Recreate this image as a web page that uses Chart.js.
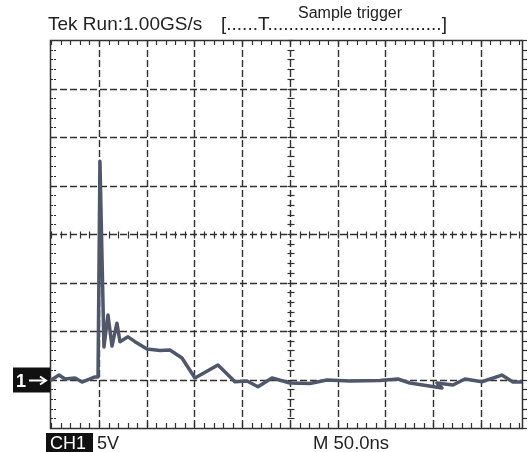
<!DOCTYPE html>
<html><head><meta charset="utf-8">
<script src="https://cdn.jsdelivr.net/npm/chart.js@4.4.0/dist/chart.umd.min.js"></script>
<style>html,body{margin:0;padding:0;background:#fff;}#wrap{width:532px;height:452px;position:relative;}</style>
</head><body><div id="wrap"><canvas id="c" width="532" height="452"></canvas></div>
<script>
// Trace samples (time in ns from left edge, volts above ground)
const timeNs = [0, 8.1, 14.4, 24.9, 32.2, 45.8, 49.0, 51.0, 55.2, 59.4, 63.6, 68.8, 72.0, 80.4, 87.7, 100.3, 113.9, 124.3, 136.9, 150.5, 174.6, 192.4, 205.0, 216.5, 231.2, 250.0, 270.9, 288.7, 312.8, 344.2, 363.0, 375.6, 409.2, 404.0, 420.7, 433.2, 451.0, 471.9, 483.5, 493.0];
const voltsV = [-0.05, 0.46, 0.05, 0.15, -0.26, 0.26, 0.26, 22.5, 3.35, 6.65, 3.45, 5.8, 3.9, 4.4, 3.9, 3.14, 2.99, 3.04, 2.22, 0.15, 1.49, -0.23, -0.15, -0.74, 0.15, -0.36, -0.41, -0.05, -0.15, -0.1, 0.05, -0.36, -0.88, -0.36, -0.57, 0.05, -0.23, 0.46, -0.26, -0.26];

// Graticule settings
const timePerDiv = 50;      // ns / div
const voltsPerDiv = 5;      // V / div
const xRange = [-1.3, 493];
const yRange = [-5, 35];
const centerTime = 250;
const centerVolt = 15;

// Labels
const headerLabel = "Tek Run:1.00GS/s";
const triggerLabel = "Sample trigger";
const channelLabel = "CH1";
const voltsLabel = "5V";
const timebaseLabel = "M 50.0ns";
const markerLabel = "1";

const points = timeNs.map((t, i) => ({x: t, y: voltsV[i]}));
const FONT = '"Liberation Sans", Arial, Helvetica, sans-serif';
const INK = '#222222';
const GRID = '#303030';

const graticule = {
  id: 'graticule',
  beforeDatasetsDraw(chart) {
    const {ctx, chartArea: a, scales: {x, y}} = chart;
    ctx.save();
    ctx.strokeStyle = GRID;
    // major dashed lines
    ctx.lineWidth = 1.4;
    ctx.setLineDash([7, 3]);
    for (let t = timePerDiv; t < xRange[1] - 5; t += timePerDiv) {
      const px = Math.round(x.getPixelForValue(t)) + 0.5;
      ctx.beginPath(); ctx.moveTo(px, a.top); ctx.lineTo(px, a.bottom); ctx.stroke();
    }
    for (let v = 0; v < yRange[1]; v += voltsPerDiv) {
      const py = Math.round(y.getPixelForValue(v)) + 0.5;
      ctx.beginPath(); ctx.moveTo(a.left, py); ctx.lineTo(a.right, py); ctx.stroke();
    }
    ctx.setLineDash([]);
    ctx.lineWidth = 1.2;
    const cx = Math.round(x.getPixelForValue(centerTime)) + 0.5;
    const cy = Math.round(y.getPixelForValue(centerVolt)) + 0.5;
    // center cross ticks
    for (let v = yRange[0]; v <= yRange[1]; v += voltsPerDiv / 5) {
      const py = Math.round(y.getPixelForValue(v)) + 0.5;
      ctx.beginPath(); ctx.moveTo(cx - 3, py); ctx.lineTo(cx + 4, py); ctx.stroke();
    }
    for (let t = 0; t <= xRange[1]; t += timePerDiv / 5) {
      const px = Math.round(x.getPixelForValue(t)) + 0.5;
      ctx.beginPath(); ctx.moveTo(px, cy - 3); ctx.lineTo(px, cy + 4); ctx.stroke();
      // top and bottom border ticks
      ctx.beginPath(); ctx.moveTo(px, a.top); ctx.lineTo(px, a.top + 5); ctx.stroke();
      ctx.beginPath(); ctx.moveTo(px, a.bottom); ctx.lineTo(px, a.bottom - 5); ctx.stroke();
    }
    // left / right border ticks
    for (let v = yRange[0]; v <= yRange[1]; v += voltsPerDiv / 5) {
      const py = Math.round(y.getPixelForValue(v)) + 0.5;
      ctx.setLineDash([2, 1]);
      ctx.beginPath(); ctx.moveTo(a.left + 1, py); ctx.lineTo(a.left + 6, py); ctx.stroke();
      ctx.setLineDash([]);
      ctx.beginPath(); ctx.moveTo(a.right, py); ctx.lineTo(a.right + 5, py); ctx.stroke();
    }
    // border
    ctx.lineWidth = 1.5;
    ctx.strokeRect(Math.round(a.left) + 0.5, Math.round(a.top) + 0.5, Math.round(a.right - a.left), Math.round(a.bottom - a.top));
    ctx.restore();
  },
  afterDraw(chart) {
    const {ctx, chartArea: a, scales: {x, y}} = chart;
    ctx.save();
    ctx.textBaseline = 'alphabetic';
    ctx.fillStyle = INK;
    // header
    ctx.font = '19px ' + FONT;
    ctx.fillText(headerLabel, 48, 30);
    const pre = '[......T';
    let post = '';
    while (ctx.measureText(pre + post + '.]').width <= 452 - 221) post += '.';
    ctx.fillText(pre + post + ']', 221, 30);
    ctx.font = '16px ' + FONT;
    ctx.fillText(triggerLabel, 298, 18);
    // bottom status line
    ctx.fillStyle = '#111';
    ctx.fillRect(46, 433, 47, 19);
    ctx.fillStyle = '#fff';
    ctx.font = '18px ' + FONT;
    ctx.fillText(channelLabel, 50, 449);
    ctx.fillStyle = INK;
    ctx.fillText(voltsLabel, 97, 449);
    ctx.font = '18.5px ' + FONT;
    ctx.fillText(timebaseLabel, 313, 449);
    // ground marker
    const gy = y.getPixelForValue(0);
    ctx.fillStyle = '#111';
    ctx.fillRect(13, gy - 12, a.left - 13, 25);
    ctx.fillStyle = '#fff';
    ctx.font = 'bold 18px ' + FONT;
    ctx.fillText(markerLabel, 16, gy + 7);
    ctx.strokeStyle = '#fff';
    ctx.lineWidth = 2;
    ctx.beginPath(); ctx.moveTo(29, gy + 1); ctx.lineTo(45, gy + 1); ctx.stroke();
    ctx.beginPath(); ctx.moveTo(40, gy - 3); ctx.lineTo(46, gy + 1); ctx.lineTo(40, gy + 5); ctx.stroke();
    ctx.restore();
  }
};

new Chart(document.getElementById('c'), {
  type: 'scatter',
  data: {datasets: [{
    data: points, showLine: true, pointRadius: 0, borderColor: '#50576a', borderWidth: 3.5,
    tension: 0, borderJoinStyle: 'round', borderCapStyle: 'round'
  }]},
  options: {
    responsive: false, animation: false, events: [],
    layout: {padding: {left: 50, right: 10, top: 40, bottom: 24}},
    plugins: {legend: {display: false}, tooltip: {enabled: false}},
    scales: {
      x: {type: 'linear', display: false, min: xRange[0], max: xRange[1]},
      y: {type: 'linear', display: false, min: yRange[0], max: yRange[1]}
    }
  },
  plugins: [graticule]
});
</script></body></html>
